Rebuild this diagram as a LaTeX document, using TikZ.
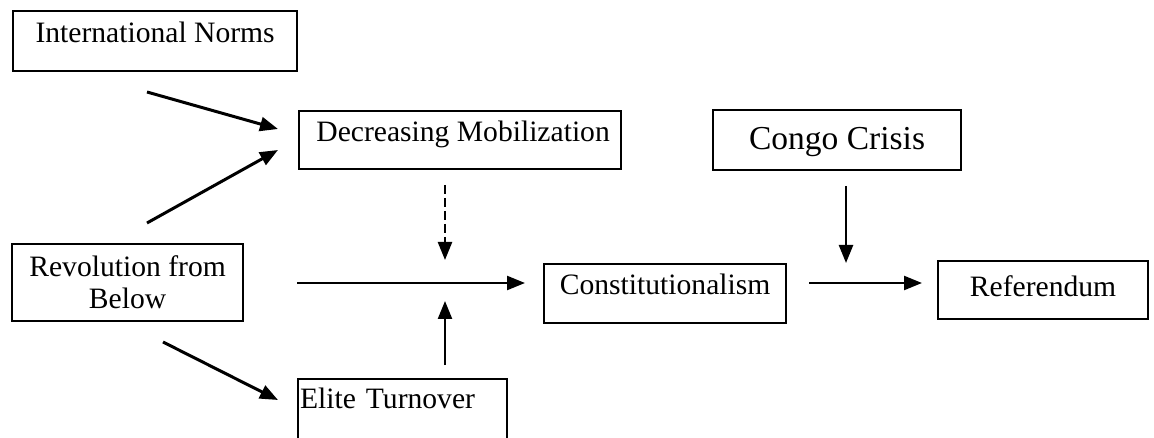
\documentclass[tikz,border=0pt]{standalone}
\usepackage{fontspec}
\setmainfont{Liberation Serif}
\usetikzlibrary{arrows.meta}
\begin{document}
\begin{tikzpicture}[x=1pt,y=-1pt,
  box/.style={draw, line width=2.2pt, inner sep=0pt, anchor=north west,
    font=\fontsize{29.6}{32}\selectfont},
  arr/.style={-{Triangle[length=18pt,width=14pt]}, line width=2.4pt},
  darr/.style={arr, line width=3pt},
  dsh/.style={arr, dash pattern=on 9pt off 4pt}]
\useasboundingbox (0,0) rectangle (1154,438);
\fill[white] (0,0) rectangle (1154,438);
% boxes
\node[box, minimum width=284pt, text height=31pt, text depth=29pt] (in) at (12,10) {International Norms};
\node[box, minimum width=322pt, text height=30pt, text depth=28pt] (dm) at (298,110) {\hspace{6pt}Decreasing Mobilization};
\node[box, minimum width=248pt, text height=39pt, text depth=21pt, font=\fontsize{33.5}{36}\selectfont] (cc) at (712,109) {Congo Crisis};
\node[box, minimum width=242pt, text height=30pt, text depth=29pt] (co) at (543,263) {Constitutionalism};
\node[box, minimum width=210pt, text height=35pt, text depth=23pt] (re) at (937,260) {Referendum};
\node[box, minimum width=231pt, minimum height=77pt, align=center] (rv) at (11,243) {Revolution from\\Below};
\node[box, text width=205pt, inner xsep=2pt, align=left, text height=29pt, text depth=38pt] (et) at (297,378) {Elite Turnover};
% connector ends
\coordinate (a1s) at (147,92);  \coordinate (a1e) at (278,129);
\coordinate (a2s) at (147,223); \coordinate (a2e) at (278,150);
\coordinate (a3s) at (163,342); \coordinate (a3e) at (278,400);
\coordinate (hs) at (297,283);  \coordinate (he) at (525,283);
\coordinate (ds) at (445,185);  \coordinate (de) at (445,260);
\coordinate (us) at (445,365);  \coordinate (ue) at (445,301);
\coordinate (cs) at (846,186);  \coordinate (ce) at (846,263);
\coordinate (rs) at (809,283);  \coordinate (rend) at (922,283);
% connectors
\draw[darr] (a1s) -- (a1e);
\draw[darr] (a2s) -- (a2e);
\draw[darr] (a3s) -- (a3e);
\draw[arr] (hs) -- (he);
\draw[dsh] (ds) -- (de);
\draw[arr] (us) -- (ue);
\draw[arr] (cs) -- (ce);
\draw[arr] (rs) -- (rend);
\end{tikzpicture}
\end{document}
